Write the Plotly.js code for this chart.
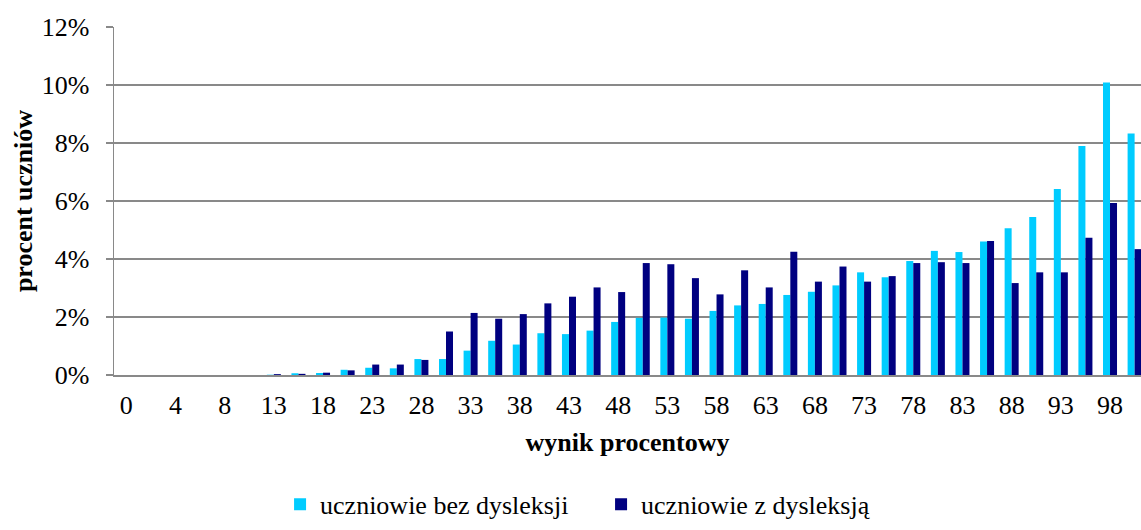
<!DOCTYPE html>
<html>
<head>
<meta charset="utf-8">
<script src="https://cdn.plot.ly/plotly-3.0.1.min.js"></script>
<style>html,body{margin:0;padding:0;background:#fff;}#chart{width:1141px;height:530px;}</style>
</head>
<body>
<div id="chart"></div>
<script>
const categories = ["0","2","4","6","8","10","13","15","18","20","23","25","28","30","33","35","38","40","43","45","48","50","53","55","58","60","63","65","68","70","73","75","78","80","83","85","88","90","93","95","98","100"];
const bezDysleksji = [0,0,0,0,0,0,0.0001,0.0006,0.0007,0.0018,0.0025,0.0023,0.0055,0.0055,0.0084,0.0118,0.0105,0.0144,0.0141,0.0153,0.0183,0.0197,0.0198,0.0194,0.0221,0.0240,0.0245,0.0276,0.0287,0.0309,0.0354,0.0337,0.0393,0.0428,0.0424,0.0460,0.0506,0.0545,0.0641,0.0790,0.1009,0.0833];
const zDysleksja = [0,0,0,0,0,0,0.0003,0.0004,0.0008,0.0016,0.0036,0.0036,0.0052,0.0150,0.0214,0.0194,0.0210,0.0247,0.0270,0.0302,0.0286,0.0386,0.0382,0.0334,0.0278,0.0361,0.0302,0.0425,0.0322,0.0374,0.0322,0.0341,0.0386,0.0389,0.0386,0.0462,0.0317,0.0354,0.0354,0.0473,0.0593,0.0434];
const tickLabels = categories.filter((c, i) => i % 2 === 0);
const seriesNames = ["uczniowie bez dysleksji", "uczniowie z dysleksją"];

const font = {family: "Liberation Serif", size: 26, color: "#000"};
const grid = "#898989";

const data = [
  {type: "bar", name: seriesNames[0], x: categories, y: bezDysleksji, marker: {color: "#00CCFF"}, hoverinfo: "x+y"},
  {type: "bar", name: seriesNames[1], x: categories, y: zDysleksja, marker: {color: "#000080"}, hoverinfo: "x+y"}
];

const layout = {
  width: 1141, height: 530,
  margin: {l: 114, r: 0, t: 27, b: 155, autoexpand: false},
  paper_bgcolor: "#fff", plot_bgcolor: "#fff",
  font: font,
  barmode: "group", bargap: 0.43, bargroupgap: 0,
  showlegend: true,
  legend: {orientation: "h", x: 0.1617, xanchor: "left", y: -0.304, yanchor: "top", font: font,
           traceorder: "normal", entrywidth: 276, entrywidthmode: "pixels"},
  xaxis: {
    type: "category", range: [-0.5, 41.26],
    tickvals: tickLabels, ticktext: tickLabels,
    showline: true, linecolor: grid, linewidth: 1.5,
    showgrid: false, ticks: "", zeroline: false,
    tickfont: font, automargin: false, ticklabelstandoff: 6,
    title: {text: "<b>wynik procentowy</b>", font: font, standoff: 14}
  },
  yaxis: {
    range: [0, 0.12], dtick: 0.02, tickformat: ".0%",
    showline: true, linecolor: grid, linewidth: 1.5,
    showgrid: true, gridcolor: grid, gridwidth: 1.5,
    ticks: "outside", ticklen: 7, tickcolor: grid, tickwidth: 1.5,
    zeroline: false, tickfont: font, automargin: false, ticklabelstandoff: 11,
    title: {text: "<b>procent uczniów</b>", font: font, standoff: 1}
  }
};

Plotly.newPlot("chart", data, layout, {staticPlot: true, displayModeBar: false});
</script>
</body>
</html>
